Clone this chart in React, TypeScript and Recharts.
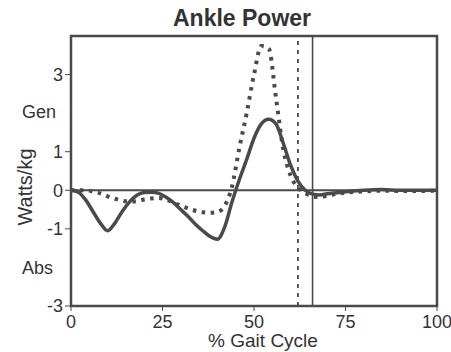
import React from 'react';
import { LineChart, Line, XAxis, YAxis, ReferenceLine, ReferenceArea } from 'recharts';

// % gait cycle samples
const gaitPct = [0, 2, 4, 6, 8, 10, 12, 14, 16, 18, 20, 22, 24, 26, 28, 30, 32, 34, 36, 38, 40, 42, 44, 46, 48, 50, 52, 54, 56, 58, 60, 62, 64, 66, 68, 70, 75, 80, 85, 90, 95, 100];

// solid curve (watts/kg)
const solidPower = [0, -0.05, -0.25, -0.55, -0.85, -1.05, -0.85, -0.55, -0.3, -0.13, -0.06, -0.05, -0.08, -0.18, -0.32, -0.5, -0.68, -0.88, -1.05, -1.2, -1.27, -0.95, -0.3, 0.28, 0.8, 1.35, 1.72, 1.84, 1.72, 1.22, 0.65, 0.24, 0.0, -0.1, -0.12, -0.09, -0.04, 0.0, 0.02, 0.0, 0.0, 0.0];

// dotted curve (watts/kg)
const dottedPower = [0, 0, 0, -0.03, -0.08, -0.16, -0.22, -0.27, -0.29, -0.28, -0.24, -0.21, -0.2, -0.24, -0.32, -0.4, -0.47, -0.53, -0.57, -0.58, -0.56, -0.4, 0.1, 1.1, 2.0, 3.0, 3.74, 3.68, 2.4, 1.06, 0.38, 0.07, -0.07, -0.15, -0.18, -0.14, -0.06, -0.03, -0.01, -0.02, -0.02, -0.01];

const xTicks = [0, 25, 50, 75, 100];
const yTicks = [-3, -1, 0, 1, 3];

const toeOffSolid = 66;
const toeOffDotted = 62;

const data = gaitPct.map((x, i) => ({ x, solid: solidPower[i], dotted: dottedPower[i] }));

const INK = '#4a4a4a';
const TEXT = '#333';
const FONT = '"Liberation Sans", Arial, sans-serif';

const label = (style: React.CSSProperties): React.CSSProperties => ({
  position: 'absolute',
  fontFamily: FONT,
  fontSize: 18,
  color: TEXT,
  whiteSpace: 'nowrap',
  lineHeight: 1,
  ...style,
});

export default function App() {
  return (
    <div style={{ position: 'absolute', left: 0, top: 0, width: 451, height: 352, background: '#fff' }}>
      <LineChart width={451} height={352} data={data} margin={{ top: 36, right: 14, bottom: 16, left: 0 }}>
        <XAxis
          dataKey="x"
          type="number"
          domain={[0, 100]}
          ticks={xTicks}
          tickSize={5}
          tickMargin={4}
          height={30}
          axisLine={false}
          tickLine={{ stroke: INK }}
          tick={{ fill: TEXT, fontSize: 18, fontFamily: FONT }}
          allowDataOverflow
        />
        <YAxis
          type="number"
          domain={[-3, 4]}
          ticks={yTicks}
          width={71}
          tickSize={6}
          tickMargin={2}
          axisLine={false}
          tickLine={{ stroke: INK }}
          tick={{ fill: TEXT, fontSize: 18, fontFamily: FONT }}
          allowDataOverflow
        />
        <ReferenceArea x1={0} x2={100} y1={-3} y2={4} fill="#fff" fillOpacity={0} stroke={INK} strokeWidth={2.5} />
        <ReferenceLine y={0} stroke={INK} strokeWidth={2} />
        <ReferenceLine x={toeOffSolid} stroke={INK} strokeWidth={1.6} />
        <ReferenceLine x={toeOffDotted} stroke={INK} strokeWidth={1.8} strokeDasharray="4 5" />
        <Line type="monotone" dataKey="dotted" stroke={INK} strokeWidth={4} strokeDasharray="3.5 5.5" dot={false} isAnimationActive={false} />
        <Line type="monotone" dataKey="solid" stroke={INK} strokeWidth={3.5} dot={false} isAnimationActive={false} />
      </LineChart>
      <div style={label({ left: 0, width: 484, top: 7, textAlign: 'center', fontWeight: 'bold', fontSize: 23 })}>Ankle Power</div>
      <div style={label({ left: 22, top: 103 })}>Gen</div>
      <div style={label({ left: 22, top: 259 })}>Abs</div>
      <div style={label({ left: 25, top: 187, fontSize: 20, transform: 'translate(-50%, -50%) rotate(-90deg)' })}>Watts/kg</div>
      <div style={label({ left: 263, top: 331, fontSize: 19, transform: 'translateX(-50%)' })}>% Gait Cycle</div>
    </div>
  );
}
